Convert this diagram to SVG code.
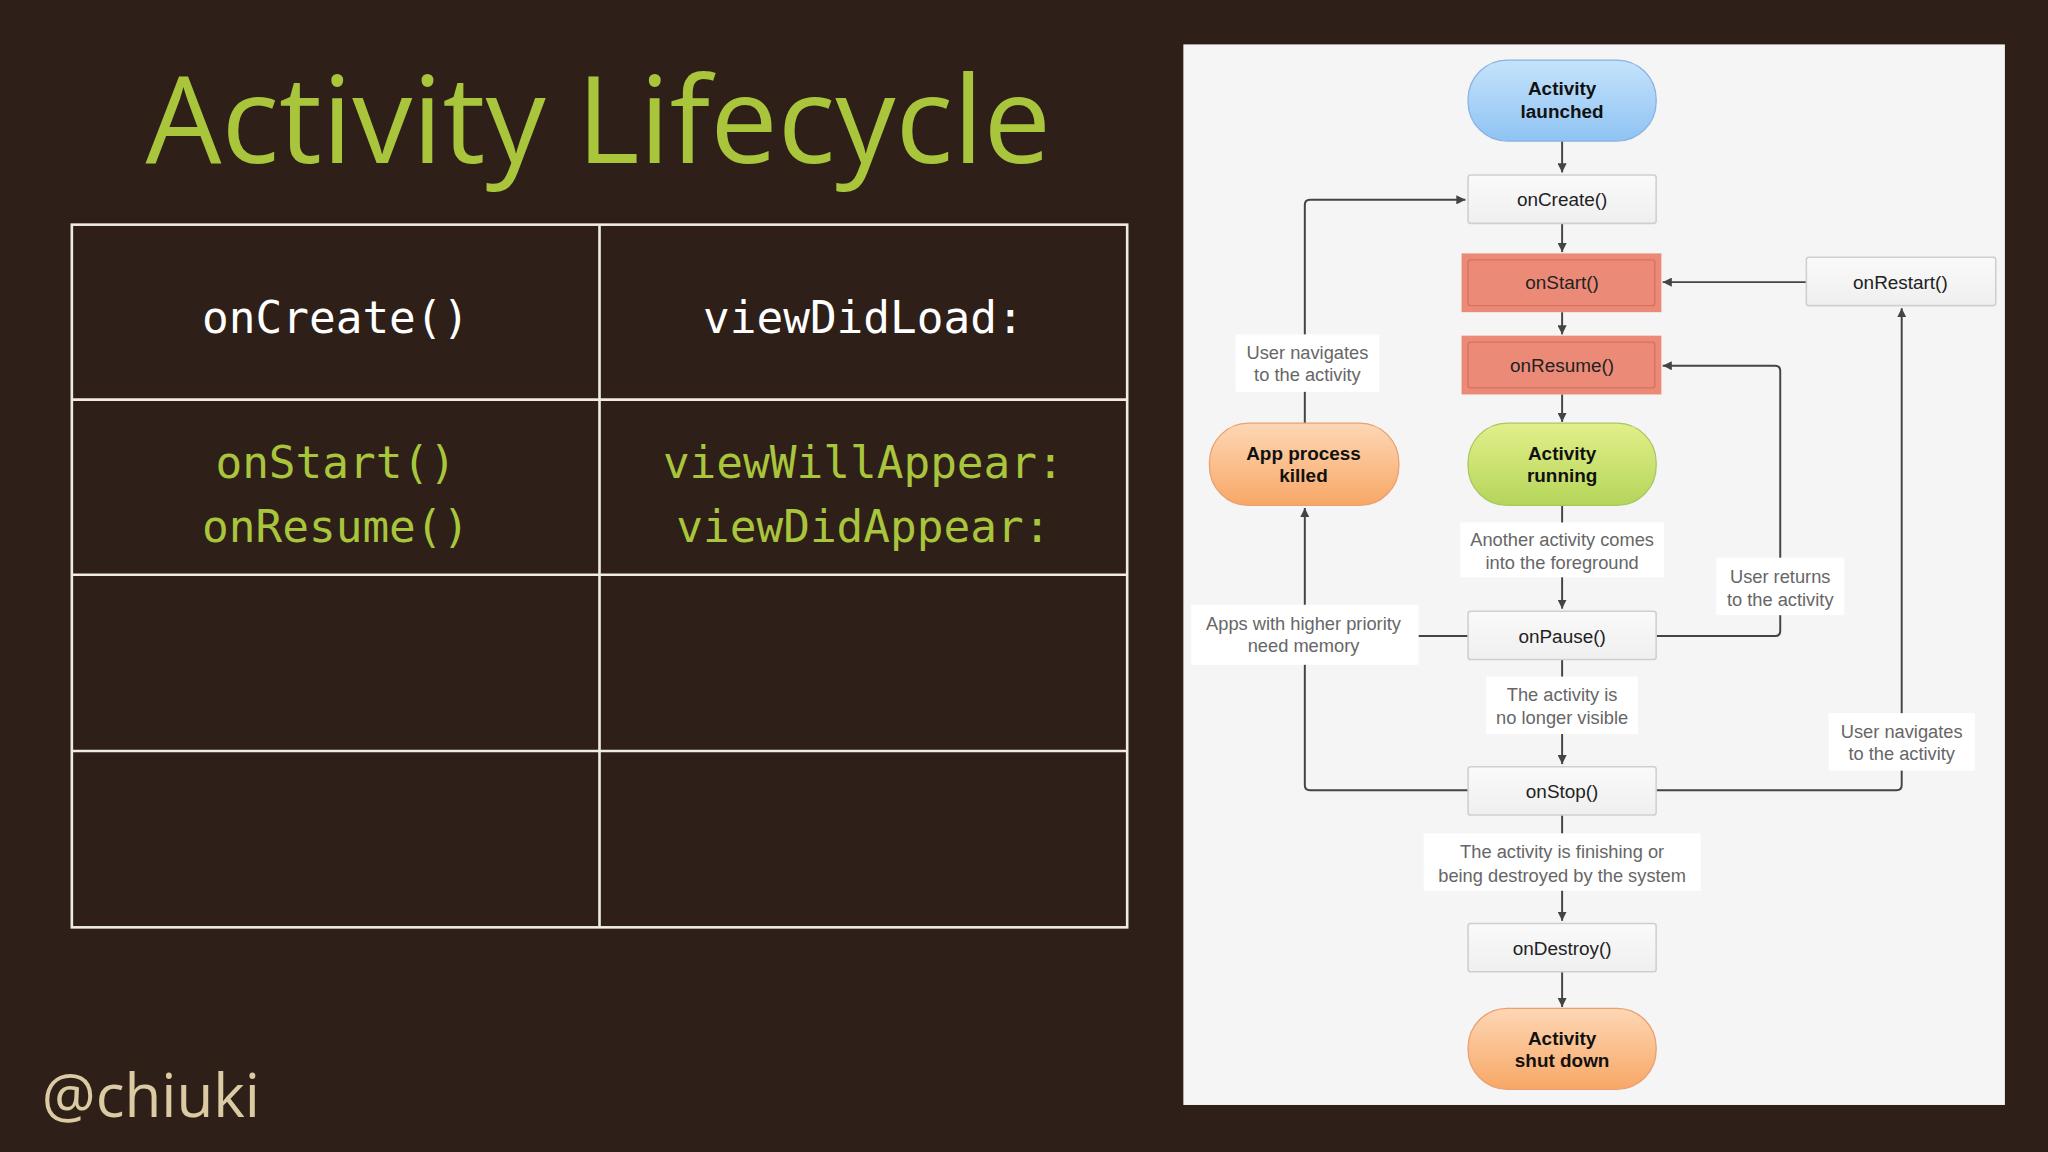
<svg xmlns="http://www.w3.org/2000/svg" width="2048" height="1152" viewBox="0 0 2048 1152">
<defs>
<marker id="ah" viewBox="0 0 10 10" refX="10" refY="5" markerWidth="7" markerHeight="7" orient="auto" markerUnits="userSpaceOnUse"><path d="M0,0 L10,5 L0,10 z" fill="#444"/></marker>
<linearGradient id="gb" x1="0" y1="0" x2="0" y2="1"><stop offset="0" stop-color="#c5e3fb"/><stop offset="1" stop-color="#8fc3f3"/></linearGradient>
<linearGradient id="gg" x1="0" y1="0" x2="0" y2="1"><stop offset="0" stop-color="#e2ef8a"/><stop offset="1" stop-color="#b5d55a"/></linearGradient>
<linearGradient id="go" x1="0" y1="0" x2="0" y2="1"><stop offset="0" stop-color="#fdd7b5"/><stop offset="1" stop-color="#f8a766"/></linearGradient>
<linearGradient id="gw" x1="0" y1="0" x2="0" y2="1"><stop offset="0" stop-color="#fafafa"/><stop offset="1" stop-color="#efefef"/></linearGradient>
</defs>
<style>
.mono{font-family:"DejaVu Sans Mono",monospace;font-size:34px;text-anchor:middle}
.nt{font-family:"Liberation Sans",Arial,sans-serif;font-size:14.5px;text-anchor:middle;fill:#222}
.b{font-weight:bold;fill:#111}
.lb{font-family:"Liberation Sans",Arial,sans-serif;font-size:14px;text-anchor:middle;fill:#666}
.box{fill:url(#gw);stroke:#cfcfcf;stroke-width:1.2}
.red{fill:#ec8a78}
.redi{fill:none;stroke:#d9705f;stroke-width:1}
.ln{fill:none;stroke:#444;stroke-width:1.5}
.lbg{fill:#fff}
</style>
<rect width="2048" height="1152" fill="#2e2019"/>
<g transform="scale(1.30612)">
<text x="458" y="125" font-family="Open Sans,Noto Sans,sans-serif" font-size="92" fill="#a9c53c" text-anchor="middle">Activity Lifecycle</text>
<g id="table" fill="none" stroke="#f0ece4" stroke-width="2">
<rect x="55" y="172" width="808" height="538"/>
<line x1="459" y1="172" x2="459" y2="710"/>
<line x1="55" y1="306" x2="863" y2="306"/>
<line x1="55" y1="440" x2="863" y2="440"/>
<line x1="55" y1="575" x2="863" y2="575"/>
</g>
<text class="mono" x="257" y="255" fill="#ffffff">onCreate()</text>
<text class="mono" x="661" y="255" fill="#ffffff">viewDidLoad:</text>
<text class="mono" x="257" y="366" fill="#a9c53c">onStart()</text>
<text class="mono" x="257" y="415" fill="#a9c53c">onResume()</text>
<text class="mono" x="661" y="366" fill="#a9c53c">viewWillAppear:</text>
<text class="mono" x="661" y="415" fill="#a9c53c">viewDidAppear:</text>
<text x="32" y="855" font-family="Open Sans,Noto Sans,sans-serif" font-size="46" fill="#dccba2">@chiuki</text>

<rect x="906" y="34" width="629" height="812" fill="#f5f5f5"/>
<g id="connectors">
<path class="ln" d="M1196,108 V132" marker-end="url(#ah)"/>
<path class="ln" d="M1196,171 V193" marker-end="url(#ah)"/>
<path class="ln" d="M1196,239 V256" marker-end="url(#ah)"/>
<path class="ln" d="M1196,302 V323" marker-end="url(#ah)"/>
<path class="ln" d="M1196,387 V466" marker-end="url(#ah)"/>
<path class="ln" d="M1196,505 V585" marker-end="url(#ah)"/>
<path class="ln" d="M1196,624 V705" marker-end="url(#ah)"/>
<path class="ln" d="M1196,744 V771" marker-end="url(#ah)"/>
<path class="ln" d="M999,324 V157 Q999,153 1003,153 H1122" marker-end="url(#ah)"/>
<path class="ln" d="M1124,605 H1003 Q999,605 999,601 V389" marker-end="url(#ah)"/>
<path class="ln" d="M1124,487 H1086"/>
<path class="ln" d="M1268,487 H1359 Q1363,487 1363,483 V284 Q1363,280 1359,280 H1273" marker-end="url(#ah)"/>
<path class="ln" d="M1268,605 H1452 Q1456,605 1456,601 V236" marker-end="url(#ah)"/>
<path class="ln" d="M1383,216 H1273" marker-end="url(#ah)"/>
</g>
<g id="labels">
<rect class="lbg" x="946" y="256" width="110" height="44"/>
<text class="lb" x="1001" y="275">User navigates</text><text class="lb" x="1001" y="292">to the activity</text>
<rect class="lbg" x="1118" y="400" width="156" height="42"/>
<text class="lb" x="1196" y="418">Another activity comes</text><text class="lb" x="1196" y="436">into the foreground</text>
<rect class="lbg" x="1314" y="427" width="98" height="44"/>
<text class="lb" x="1363" y="446">User returns</text><text class="lb" x="1363" y="464">to the activity</text>
<rect class="lbg" x="912" y="463" width="174" height="46"/>
<text class="lb" x="998" y="482">Apps with higher priority</text><text class="lb" x="998" y="499">need memory</text>
<rect class="lbg" x="1138" y="518" width="116" height="44"/>
<text class="lb" x="1196" y="537">The activity is</text><text class="lb" x="1196" y="554">no longer visible</text>
<rect class="lbg" x="1400" y="546" width="112" height="44"/>
<text class="lb" x="1456" y="565">User navigates</text><text class="lb" x="1456" y="582">to the activity</text>
<rect class="lbg" x="1090" y="638" width="212" height="44"/>
<text class="lb" x="1196" y="657">The activity is finishing or</text><text class="lb" x="1196" y="675">being destroyed by the system</text>
</g>
<g id="n-launched"><rect x="1124" y="46" width="144" height="62" rx="30" fill="url(#gb)" stroke="#8ab2e6"/><text class="nt b" x="1196" y="73">Activity</text><text class="nt b" x="1196" y="90">launched</text></g>
<g id="n-oncreate"><rect class="box" x="1124" y="134" width="144" height="37" rx="2"/><text class="nt" x="1196" y="158">onCreate()</text></g>
<g id="n-onstart"><rect class="red" x="1119" y="194" width="153" height="45"/><rect class="redi" x="1124" y="199" width="143" height="35" rx="2"/><text class="nt" x="1196" y="221" fill="#b03a2a">onStart()</text></g>
<g id="n-onresume"><rect class="red" x="1119" y="257" width="153" height="45"/><rect class="redi" x="1124" y="262" width="143" height="35" rx="2"/><text class="nt" x="1196" y="285" fill="#b03a2a">onResume()</text></g>
<g id="n-running"><rect x="1124" y="324" width="144" height="63" rx="30" fill="url(#gg)" stroke="#a8c860"/><text class="nt b" x="1196" y="352">Activity</text><text class="nt b" x="1196" y="369">running</text></g>
<g id="n-killed"><rect x="926" y="324" width="145" height="63" rx="30" fill="url(#go)" stroke="#eaa070"/><text class="nt b" x="998" y="352">App process</text><text class="nt b" x="998" y="369">killed</text></g>
<g id="n-onrestart"><rect class="box" x="1383" y="197" width="145" height="37" rx="2"/><text class="nt" x="1455" y="221">onRestart()</text></g>
<g id="n-onpause"><rect class="box" x="1124" y="468" width="144" height="37" rx="2"/><text class="nt" x="1196" y="492">onPause()</text></g>
<g id="n-onstop"><rect class="box" x="1124" y="587" width="144" height="37" rx="2"/><text class="nt" x="1196" y="611">onStop()</text></g>
<g id="n-ondestroy"><rect class="box" x="1124" y="707" width="144" height="37" rx="2"/><text class="nt" x="1196" y="731">onDestroy()</text></g>
<g id="n-shutdown"><rect x="1124" y="772" width="144" height="62" rx="30" fill="url(#go)" stroke="#eaa070"/><text class="nt b" x="1196" y="800">Activity</text><text class="nt b" x="1196" y="817">shut down</text></g>
</g>
</svg>
